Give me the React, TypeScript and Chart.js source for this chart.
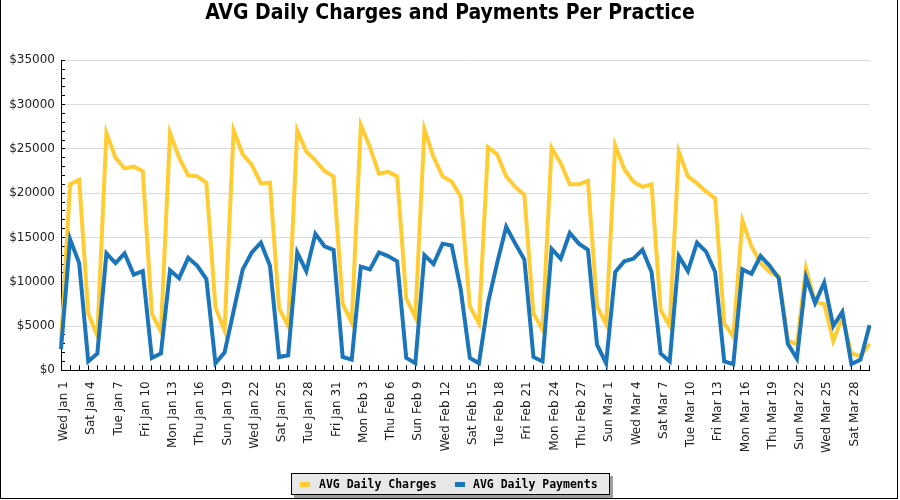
import React, { useEffect, useRef } from 'react';
import { Chart, registerables } from 'chart.js';

Chart.register(...registerables);

// ---- categories (daily, Wed Jan 1 .. Mon Mar 30) ----
const WEEKDAYS = ['Sun', 'Mon', 'Tue', 'Wed', 'Thu', 'Fri', 'Sat'];
const MONTHS = ['Jan', 'Feb', 'Mar'];
const MONTH_DAYS = [31, 29, 30];
const FIRST_WEEKDAY = 3; // Wed
const TICK_EVERY = 3;

const categories: string[] = [];
{
  let wd = FIRST_WEEKDAY;
  MONTHS.forEach((m, mi) => {
    for (let d = 1; d <= MONTH_DAYS[mi]; d++) {
      categories.push(`${WEEKDAYS[wd]} ${m} ${d}`);
      wd = (wd + 1) % 7;
    }
  });
}

// ---- series ----
const charges = [
  // Jan
  3000, 21000, 21500, 6400, 3900, 26800, 24000, 22800, 23000, 22500,
  6400, 4400, 26800, 24000, 22000, 21900, 21200, 7100, 4500, 27100,
  24400, 23200, 21100, 21200, 7000, 5000, 27100, 24700, 23700, 22500,
  21900,
  // Feb
  7500, 5400, 27700, 25200, 22200, 22400, 21900, 8100, 6000, 27200,
  24100, 21900, 21300, 19600, 7200, 5300, 25200, 24400, 21900, 20700,
  19800, 6400, 4600, 25100, 23400, 21000, 21000, 21400, 7200,
  // Mar
  5200, 25400, 22700, 21300, 20700, 21000, 6800, 5000, 24700, 21900,
  21100, 20200, 19400, 5300, 3800, 16900, 14000, 12100, 11100, 10600,
  3400, 2900, 11500, 7700, 7500, 3300, 6000, 1900, 1600, 3000,
];

const payments = [
  // Jan
  2400, 14800, 12100, 1000, 1900, 13200, 12100, 13200, 10800, 11200,
  1400, 1900, 11300, 10400, 12700, 11800, 10300, 800, 2000, 6700,
  11400, 13300, 14400, 11800, 1500, 1700, 13300, 11200, 15400, 14000,
  13600,
  // Feb
  1500, 1200, 11700, 11400, 13300, 12900, 12300, 1400, 800, 13000,
  12000, 14300, 14100, 9100, 1400, 800, 7600, 12100, 16200, 14300,
  12500, 1500, 1000, 13700, 12600, 15500, 14300, 13600, 2900,
  // Mar
  800, 11100, 12300, 12600, 13600, 11100, 1900, 1000, 12900, 11200,
  14400, 13400, 11100, 1000, 700, 11400, 10900, 12900, 11800, 10400,
  3000, 1300, 10500, 7600, 9900, 5000, 6600, 700, 1200, 5100,
];

const seriesNames = ['AVG Daily Charges', 'AVG Daily Payments'];
const seriesColors = ['#ffcc33', '#1b75bb'];

const TITLE = 'AVG Daily Charges and Payments Per Practice';
const Y_MAX = 35000;
const Y_MAJOR = 5000;
const Y_MINOR = 1000;
const CURRENCY = '$';

export default function App() {
  const canvasRef = useRef<HTMLCanvasElement | null>(null);

  useEffect(() => {
    document.body.style.margin = '0';
    const canvas = canvasRef.current;
    if (!canvas) return;

    const chart = new Chart(canvas, {
      type: 'line',
      data: {
        labels: categories,
        datasets: [
          {
            label: seriesNames[0],
            data: charges,
            borderColor: seriesColors[0],
            backgroundColor: seriesColors[0],
            borderWidth: 4,
            pointRadius: 0,
            tension: 0,
            fill: false,
            order: 1,
          },
          {
            label: seriesNames[1],
            data: payments,
            borderColor: seriesColors[1],
            backgroundColor: seriesColors[1],
            borderWidth: 4,
            pointRadius: 0,
            tension: 0,
            fill: false,
            order: 0,
          },
        ],
      },
      options: {
        responsive: false,
        animation: false,
        devicePixelRatio: 1,
        layout: { padding: { left: 0, right: 0, top: 0, bottom: 40 } },
        plugins: {
          legend: { display: false },
          tooltip: { enabled: false },
          title: {
            display: true,
            text: TITLE,
            color: '#000',
            font: {
              family: "'DejaVu Sans Condensed', 'DejaVu Sans', sans-serif",
              size: 21,
              weight: 'bold',
            },
            padding: { top: 1, bottom: 34.1 },
          },
        },
        scales: {
          x: {
            type: 'category',
            offset: false,
            afterFit: (scale: any) => {
              scale.height = 89.7;
            },
            grid: {
              drawOnChartArea: false,
              drawTicks: true,
              tickLength: -5,
              tickColor: '#000',
            },
            border: { color: '#000', width: 1 },
            ticks: {
              autoSkip: false,
              minRotation: 90,
              maxRotation: 90,
              padding: 16,
              labelOffset: 3,
              color: '#222',
              font: { family: "'DejaVu Sans', sans-serif", size: 12 },
              callback: (_v: any, i: number) => (i % TICK_EVERY === 0 ? categories[i] : ''),
            },
          },
          y: {
            min: 0,
            max: Y_MAX,
            afterFit: (scale: any) => {
              scale.width = 61;
            },
            grid: {
              color: (ctx: any) =>
                ctx.tick && ctx.tick.value % Y_MAJOR === 0 ? '#d9d9d9' : 'rgba(0,0,0,0)',
              drawTicks: true,
              tickLength: -4,
              tickColor: '#000',
            },
            border: { color: '#000', width: 1 },
            ticks: {
              stepSize: Y_MINOR,
              autoSkip: false,
              maxTicksLimit: 100,
              padding: 10,
              color: '#222',
              font: { family: "'DejaVu Sans', sans-serif", size: 12 },
              callback: (v: any) => (Number(v) % Y_MAJOR === 0 ? CURRENCY + v : ''),
            },
          },
          // empty right-hand spacer axis so the title stays centred on the canvas
          yRight: {
            position: 'right',
            min: 0,
            max: Y_MAX,
            afterFit: (scale: any) => {
              scale.width = 30;
            },
            grid: { display: false, drawOnChartArea: false },
            border: { display: false },
            ticks: { display: false },
          },
        },
      },
    });
    return () => chart.destroy();
  }, []);

  return (
    <div style={{ position: 'relative', width: 900, height: 500, background: '#fff' }}>
      <canvas ref={canvasRef} width={900} height={500} style={{ position: 'absolute', left: 0, top: 0 }} />
      <div
        style={{
          position: 'absolute',
          left: 0,
          top: 0,
          width: 898,
          height: 499,
          boxSizing: 'border-box',
          borderLeft: '1px solid #000',
          borderRight: '1px solid #000',
          borderBottom: '1px solid #000',
          pointerEvents: 'none',
        }}
      />
      <div
        style={{
          position: 'absolute',
          left: 291,
          top: 473,
          width: 319,
          height: 22,
          boxSizing: 'border-box',
          border: '1px solid #000',
          background: '#e8e8e8',
          boxShadow: '3px 3px 0 #a0a0a0',
          fontFamily: "'DejaVu Sans Mono', monospace",
          fontWeight: 'bold',
          fontSize: 11.5,
          color: '#000',
        }}
      >
        {seriesNames.map((name, i) => (
          <React.Fragment key={name}>
            <div
              style={{
                position: 'absolute',
                left: i === 0 ? 8 : 163,
                top: 8,
                width: 10,
                height: 5,
                background: seriesColors[i],
              }}
            />
            <div
              style={{
                position: 'absolute',
                left: i === 0 ? 27 : 181,
                top: 0,
                height: 20,
                lineHeight: '20px',
                whiteSpace: 'nowrap',
              }}
            >
              {name}
            </div>
          </React.Fragment>
        ))}
      </div>
    </div>
  );
}
